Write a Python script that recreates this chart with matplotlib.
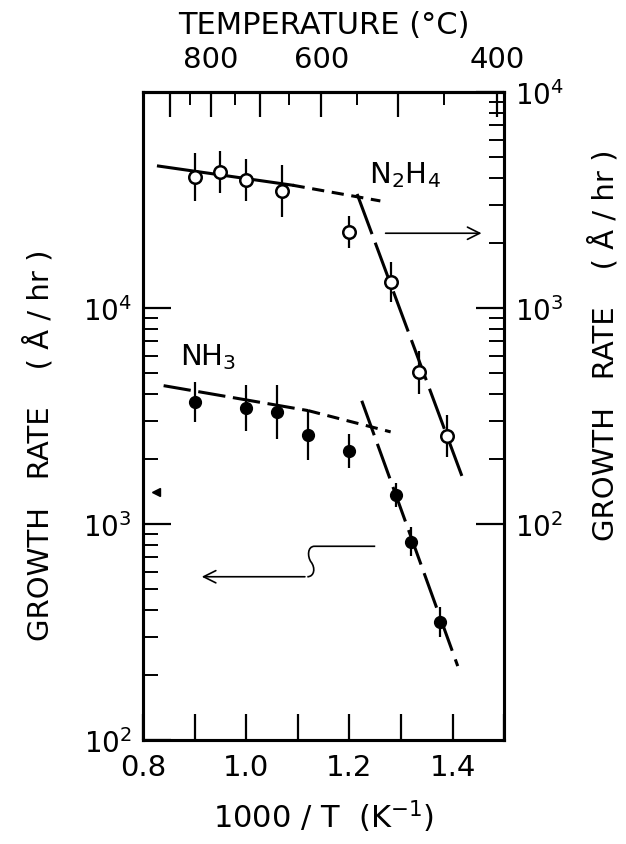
"""
Growth rate vs 1000/T for NH3 and N2H4 sources (Arrhenius plot).
"""

import numpy as np
import matplotlib.pyplot as plt
from matplotlib.path import Path
from matplotlib.patches import PathPatch
from matplotlib.ticker import FixedLocator, FixedFormatter, NullFormatter

# NH3 data (left axis, Å/hr)
nh3_x = [0.90, 1.00, 1.06, 1.12, 1.20, 1.29, 1.32, 1.375]
nh3_rate = [3680, 3430, 3310, 2580, 2180, 1360, 830, 353]
nh3_err_dec = [0.093, 0.106, 0.125, 0.116, 0.079, 0.056, 0.065, 0.069]

# N2H4 data (right axis, Å/hr)
n2h4_x = [0.90, 0.95, 1.00, 1.07, 1.20, 1.28, 1.335, 1.39]
n2h4_rate = [4030, 4250, 3930, 3490, 2250, 1320, 503, 256]
n2h4_err_dec = [0.111, 0.097, 0.097, 0.12, 0.074, 0.093, 0.10, 0.097]

# fitted lines (end points)
nh3_high_x = [0.84, 1.12, 1.28]
nh3_high = [4370, 3350, 2670]
nh3_low_x = [1.224, 1.41]
nh3_low = [3720, 220]
n2h4_high_x = [0.83, 1.09, 1.26]
n2h4_high = [4540, 3700, 3130]
n2h4_low_x = [1.215, 1.418]
n2h4_low = [3370, 167]

# top axis temperatures (°C)
temp_major = [900, 800, 700, 600, 500, 400]
temp_labels = ['', '800', '', '600', '', '400']
temp_minor = [850, 750, 650, 550, 450]

x_ticks = [0.8, 0.9, 1.0, 1.1, 1.2, 1.3, 1.4, 1.5]
x_ticklabels = ['0.8', '', '1.0', '', '1.2', '', '1.4', '']

plt.rcParams['font.family'] = ['DejaVu Sans']
plt.rcParams['mathtext.fontset'] = 'dejavusans'


def err_bounds(vals, dec):
    vals = np.array(vals, dtype=float)
    dec = np.array(dec)
    lo = vals - vals / 10 ** dec
    hi = vals * 10 ** dec - vals
    return [lo, hi]


def main():
    fig = plt.figure(figsize=(6.26, 8.45), dpi=100)
    ax = fig.add_axes([0.2284, 0.123, 0.577, 0.767])
    ax2 = ax.twinx()

    lw_spine = 2.2
    for a in (ax, ax2):
        for s in a.spines.values():
            s.set_linewidth(lw_spine)

    # x axis
    ax.set_xlim(0.8, 1.5)
    ax.xaxis.set_major_locator(FixedLocator(x_ticks))
    ax.xaxis.set_major_formatter(FixedFormatter(x_ticklabels))
    ax.tick_params(axis='x', which='major', direction='in', length=19, width=1.6,
                   labelsize=21, pad=9)

    # left y axis
    ax.set_yscale('log')
    ax.set_ylim(1e2, 1e5)
    ax.yaxis.set_major_locator(FixedLocator([1e2, 1e3, 1e4]))
    ax.yaxis.set_major_formatter(FixedFormatter([r'$10^{2}$', r'$10^{3}$', r'$10^{4}$']))
    left_minor = [m * 10 ** e for e in (2, 3) for m in range(2, 10)]
    ax.yaxis.set_minor_locator(FixedLocator(left_minor))
    ax.yaxis.set_minor_formatter(NullFormatter())
    ax.tick_params(axis='y', which='major', direction='in', length=20, width=1.6,
                   labelsize=20, pad=8)
    ax.tick_params(axis='y', which='minor', direction='in', length=11, width=1.4)

    # right y axis
    ax2.set_yscale('log')
    ax2.set_ylim(1e1, 1e4)
    ax2.yaxis.set_major_locator(FixedLocator([1e2, 1e3, 1e4]))
    ax2.yaxis.set_major_formatter(FixedFormatter([r'$10^{2}$', r'$10^{3}$', r'$10^{4}$']))
    right_minor = [m * 10 ** e for e in (2, 3) for m in range(2, 10)]
    ax2.yaxis.set_minor_locator(FixedLocator(right_minor))
    ax2.yaxis.set_minor_formatter(NullFormatter())
    ax2.tick_params(axis='y', which='major', direction='in', length=20, width=1.6,
                    labelsize=20, pad=8)
    ax2.tick_params(axis='y', which='minor', direction='in', length=11, width=1.4)

    # top temperature axis
    secax = ax.secondary_xaxis('top', functions=(lambda x: 1000.0 / x - 273.0,
                                                 lambda t: 1000.0 / (t + 273.0)))
    secax.xaxis.set_major_locator(FixedLocator(temp_major))
    secax.xaxis.set_major_formatter(FixedFormatter(temp_labels))
    secax.xaxis.set_minor_locator(FixedLocator(temp_minor))
    secax.xaxis.set_minor_formatter(NullFormatter())
    secax.tick_params(axis='x', which='major', direction='in', length=18, width=1.6,
                      labelsize=21, pad=14)
    secax.tick_params(axis='x', which='minor', direction='in', length=9, width=1.4)
    secax.spines['top'].set_linewidth(lw_spine)
    secax.set_xlabel('TEMPERATURE (°C)', fontsize=22, labelpad=8)

    ax.set_xlabel('1000 / T  (K$^{-1}$)', fontsize=22, labelpad=12)
    ax.set_ylabel('GROWTH   RATE    ( Å / hr )', fontsize=21)
    ax2.set_ylabel('GROWTH   RATE    ( Å / hr )', fontsize=21)
    ax.yaxis.set_label_coords(-0.245, 0.457)
    ax2.yaxis.set_label_coords(1.235, 0.611)

    # NH3 fits
    ax.plot(nh3_high_x[:2], nh3_high[:2], color='black', lw=2.2, dashes=(9, 2.5))
    ax.plot(nh3_high_x[1:], nh3_high[1:], color='black', lw=2.2, dashes=(4, 2.5))
    ax.plot(nh3_low_x, nh3_low, color='black', lw=2.2, dashes=(12, 3))

    # N2H4 fits
    ax2.plot(n2h4_high_x[:2], n2h4_high[:2], color='black', lw=2.2)
    ax2.plot(n2h4_high_x[1:], n2h4_high[1:], color='black', lw=2.2, dashes=(4, 2.5))
    ax2.plot(n2h4_low_x, n2h4_low, color='black', lw=2.2, dashes=(14, 3))

    # data points
    ax.errorbar(nh3_x, nh3_rate, yerr=err_bounds(nh3_rate, nh3_err_dec), fmt='o',
                color='black', ms=8.5, elinewidth=1.6, capsize=0, zorder=5)
    ax2.errorbar(n2h4_x, n2h4_rate, yerr=err_bounds(n2h4_rate, n2h4_err_dec), fmt='o',
                 color='black', mfc='white', mec='black', mew=1.8, ms=9,
                 elinewidth=1.6, capsize=0, zorder=5)

    # labels
    ax.text(0.725, 0.874, 'N$_2$H$_4$', transform=ax.transAxes, fontsize=21,
            ha='center', va='center')
    ax.text(0.18, 0.592, 'NH$_3$', transform=ax.transAxes, fontsize=21,
            ha='center', va='center')

    # arrow to right axis
    ax.annotate('', xy=(0.945, 0.782), xytext=(0.664, 0.782),
                xycoords='axes fraction', textcoords='axes fraction',
                arrowprops=dict(arrowstyle='->', lw=1.2, color='black',
                                mutation_scale=22))

    # bent arrow to left axis
    verts = [(0.643, 0.299), (0.475, 0.299),
             (0.455, 0.299), (0.455, 0.283), (0.465, 0.275),
             (0.478, 0.266), (0.475, 0.252), (0.455, 0.252)]
    codes = [Path.MOVETO, Path.LINETO,
             Path.CURVE4, Path.CURVE4, Path.CURVE4,
             Path.CURVE4, Path.CURVE4, Path.CURVE4]
    ax.add_patch(PathPatch(Path(verts, codes), transform=ax.transAxes,
                           fill=False, lw=1.2, color='black'))
    ax.annotate('', xy=(0.155, 0.252), xytext=(0.456, 0.252),
                xycoords='axes fraction', textcoords='axes fraction',
                arrowprops=dict(arrowstyle='->', lw=1.2, color='black',
                                mutation_scale=22))

    # small marker near left axis
    ax.plot([0.035], [0.383], marker='<', color='black', ms=6,
            transform=ax.transAxes, clip_on=False)

    fig.savefig('out.png', dpi=100)


if __name__ == "__main__":
    main()
